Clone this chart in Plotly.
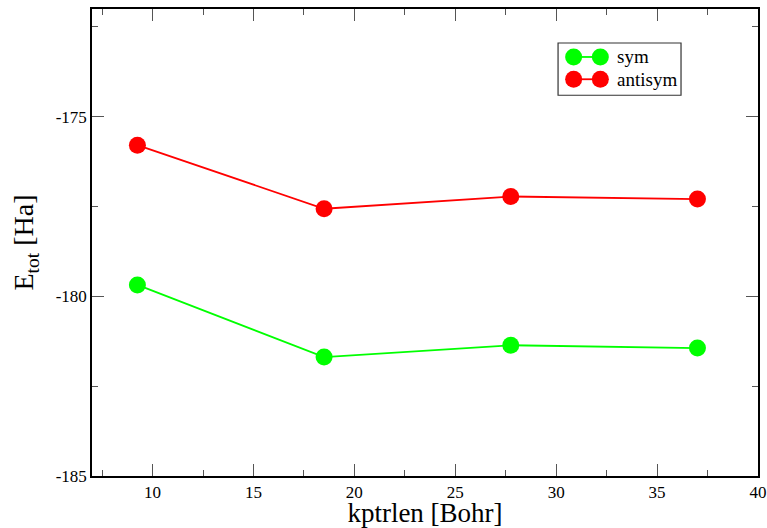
import plotly.graph_objects as go

# k-point spacing and total energies for both configurations
kptrlen = [9.25, 18.5, 27.75, 37.0]
e_sym = [-179.68, -181.69, -181.36, -181.44]
e_antisym = [-175.79, -177.56, -177.22, -177.29]

series_names = ["sym", "antisym"]
series_colors = ["#00ff00", "#ff0000"]

x_ticks = [10, 15, 20, 25, 30, 35, 40]
y_ticks = [-185, -180, -175]

FONT = "Liberation Serif"

fig = go.Figure()
for name, ys, col in zip(series_names, [e_sym, e_antisym], series_colors):
    fig.add_trace(go.Scatter(
        x=kptrlen, y=ys, name=name, mode="lines+markers",
        line=dict(color=col, width=1.8),
        marker=dict(color=col, size=17, line=dict(width=0)),
        showlegend=False,
    ))

axis_common = dict(
    showline=True, linecolor="black", linewidth=1.6, mirror="allticks",
    ticks="inside", ticklen=12, tickwidth=1.4, tickcolor="#555555",
    showgrid=False, zeroline=False,
    tickfont=dict(family=FONT, size=17, color="black"),
)

fig.update_xaxes(
    range=[7, 40], tickvals=x_ticks, ticktext=[str(v) for v in x_ticks],
    minor=dict(ticks="inside", ticklen=6, tickwidth=1.2, tickcolor="#555555", dtick=2.5, tick0=7.5),
    title=dict(text="kptrlen [Bohr]", font=dict(family=FONT, size=27, color="black"), standoff=4),
    **axis_common,
)
fig.update_yaxes(
    range=[-185, -172], tickvals=y_ticks, ticktext=[str(v) for v in y_ticks],
    minor=dict(ticks="inside", ticklen=6, tickwidth=1.2, tickcolor="#555555", dtick=2.5, tick0=-182.5),
    title=dict(text="E<sub>tot</sub> [Ha]", font=dict(family=FONT, size=28, color="black"), standoff=14),
    **axis_common,
)

# Legend box drawn with shapes: two markers joined by a line, then the label
L, R, T, B = 91.5, 757.7, 8.7, 476.0
W, H = R - L, B - T


def px(xp):
    return (xp - L) / W


def py(yp):
    return 1 - (yp - T) / H


fig.add_shape(type="rect", xref="paper", yref="paper",
              x0=px(557.7), x1=px(680.7), y0=py(95), y1=py(42.7),
              line=dict(color="#333333", width=1.2), fillcolor="white")

row_y = [56.7, 79.0]
for yy, name, col in zip(row_y, series_names, series_colors):
    fig.add_shape(type="line", xref="paper", yref="paper",
                  x0=px(573.3), x1=px(600), y0=py(yy), y1=py(yy),
                  line=dict(color=col, width=1.8))
    for cx in (573.3, 600):
        fig.add_shape(type="circle", xref="paper", yref="paper",
                      xsizemode="pixel", ysizemode="pixel",
                      xanchor=px(cx), yanchor=py(yy),
                      x0=-8.5, x1=8.5, y0=-8.5, y1=8.5,
                      line=dict(width=0), fillcolor=col)
    fig.add_annotation(xref="paper", yref="paper", x=px(615), y=py(yy),
                       text=name, showarrow=False, xanchor="left", yanchor="middle",
                       font=dict(family=FONT, size=19, color="black"))

fig.update_layout(
    width=767, height=528,
    margin=dict(l=92, r=9, t=9, b=52, autoexpand=False),
    plot_bgcolor="white", paper_bgcolor="white",
)

fig.write_html("out.html")
